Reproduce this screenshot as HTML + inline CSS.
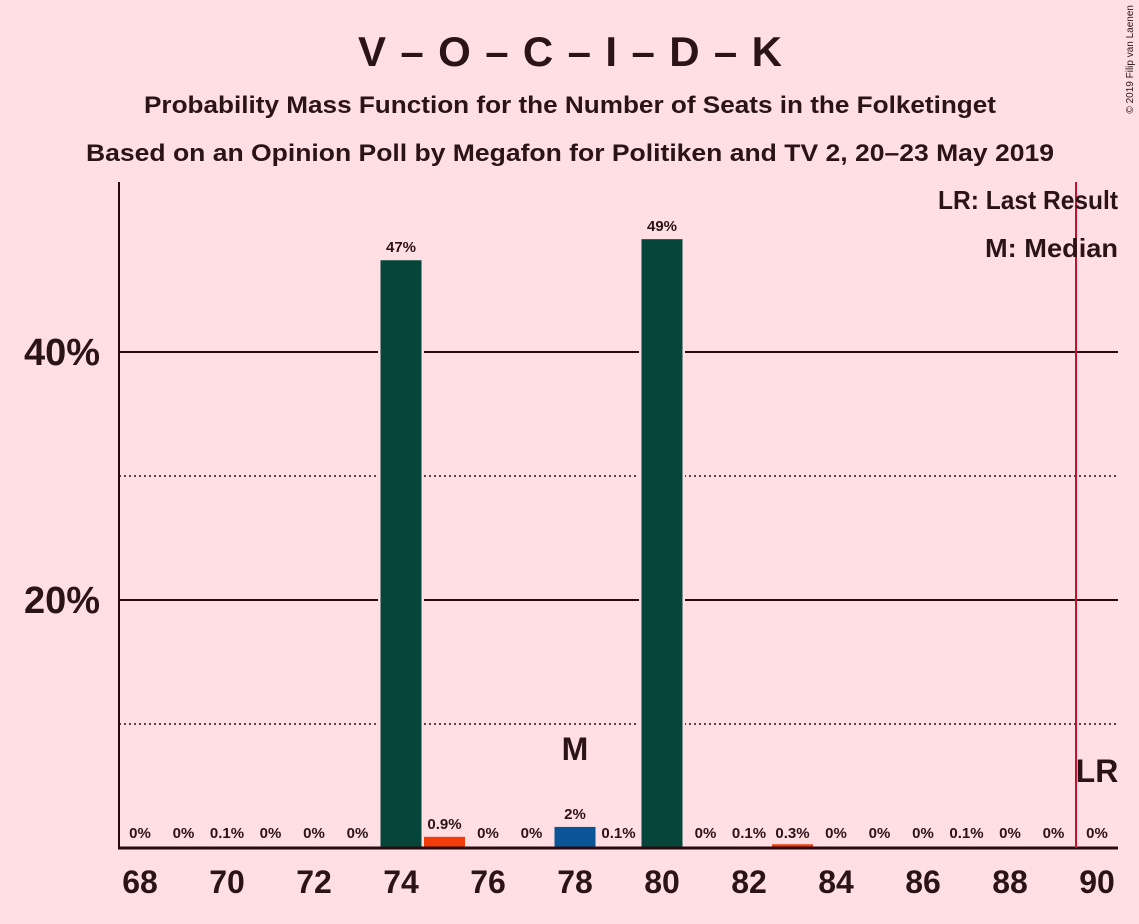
<!DOCTYPE html>
<html><head><meta charset="utf-8"><style>
body{margin:0;background:#FFDFE4;}
svg{display:block;font-family:"Liberation Sans",sans-serif;}
</style></head><body>
<svg id="chart" width="1139" height="924">
<rect width="1139" height="924" fill="#FFDFE4"/>
<text x="570" y="66" text-anchor="middle" font-size="42" font-weight="bold" fill="#2a1418" textLength="424" lengthAdjust="spacing">V – O – C – I – D – K</text>
<text x="570" y="113" text-anchor="middle" font-size="24" font-weight="bold" fill="#2a1418" textLength="852" lengthAdjust="spacingAndGlyphs">Probability Mass Function for the Number of Seats in the Folketinget</text>
<text x="570" y="161" text-anchor="middle" font-size="24" font-weight="bold" fill="#2a1418" textLength="968" lengthAdjust="spacingAndGlyphs">Based on an Opinion Poll by Megafon for Politiken and TV 2, 20–23 May 2019</text>
<text x="1133" y="5" transform="rotate(-90 1133 5)" text-anchor="end" font-size="10" fill="#2a1418">© 2019 Filip van Laenen</text>
<g id="grid"></g>
<g id="bars"></g>
<g id="labels"></g>
<line x1="119" y1="182" x2="119" y2="849" stroke="#2a0a10" stroke-width="2"/>
<line x1="118" y1="848" x2="1118" y2="848" stroke="#2a0a10" stroke-width="3"/>
<line x1="1076" y1="182" x2="1076" y2="848" stroke="#C8102E" stroke-width="2"/>
<text x="1097" y="782" text-anchor="middle" font-size="32" font-weight="bold" fill="#2a1418">LR</text>
<text x="1118" y="209" text-anchor="end" font-size="26" font-weight="bold" fill="#2a1418" textLength="180" lengthAdjust="spacingAndGlyphs">LR: Last Result</text>
<text x="1118" y="257" text-anchor="end" font-size="26" font-weight="bold" fill="#2a1418" textLength="133" lengthAdjust="spacingAndGlyphs">M: Median</text>
</svg>
<script>
const seats=[68,69,70,71,72,73,74,75,76,77,78,79,80,81,82,83,84,85,86,87,88,89,90];
const probs=[0,0,0.1,0,0,0,47.4,0.9,0,0,1.7,0.1,49.1,0,0.1,0.3,0,0,0,0.1,0,0,0];
const printed=["0%","0%","0.1%","0%","0%","0%","47%","0.9%","0%","0%","2%","0.1%","49%","0%","0.1%","0.3%","0%","0%","0%","0.1%","0%","0%","0%"];
const colors={74:"#05453A",80:"#05453A",75:"#F23C0A",83:"#F23C0A",78:"#0A5596"};
const yTicks=[20,40];
const yMinor=[10,30];
const xTickLabels=[68,70,72,74,76,78,80,82,84,86,88,90];
const medianSeat=78;
const NS="http://www.w3.org/2000/svg";
const x=s=>140+(s-68)*43.5;
const y=v=>848-v*12.4;
function mk(t,a,p){const e=document.createElementNS(NS,t);for(const k in a)e.setAttribute(k,a[k]);p.appendChild(e);return e;}
const grid=document.getElementById('grid'),bars=document.getElementById('bars'),labels=document.getElementById('labels');
yMinor.forEach(v=>{const l=mk('line',{x1:119,x2:1118,y1:y(v),y2:y(v),stroke:'#2a0a10','stroke-width':1.5,'stroke-dasharray':'2,3'},grid);

});
yTicks.forEach(v=>{const l=mk('line',{x1:119,x2:1118,y1:y(v),y2:y(v),stroke:'#2a0a10','stroke-width':2},grid);


const t=mk('text',{x:100,y:y(v)+13,'text-anchor':'end','font-size':38,'font-weight':'bold',fill:'#2a1418'},labels);t.textContent=v+'%';

});
seats.forEach((s,i)=>{const p=probs[i];
if(p>0){const h=848-y(p);
if(p>5){const g=mk('rect',{x:x(s)-23,y:y(p)-4,width:46,height:h+4,fill:'#FFDFE4'},bars);

}
const r=mk('rect',{x:x(s)-20.5,y:y(p),width:41,height:h,fill:colors[s]||'#F23C0A'},bars);

}
const big=p>1.5;
const t=mk('text',{x:x(s),y:big?y(p)-8:838,'text-anchor':'middle','font-size':15,'font-weight':'bold',fill:'#2a1418'},labels);
if(!big&&p>0.5)t.setAttribute('y',y(p)-8);
t.textContent=printed[i];

});
xTickLabels.forEach(s=>{const t=mk('text',{x:x(s),y:893,'text-anchor':'middle','font-size':32,'font-weight':'bold',fill:'#2a1418'},labels);t.textContent=s;

});
const m=mk('text',{x:x(medianSeat),y:760,'text-anchor':'middle','font-size':32,'font-weight':'bold',fill:'#2a1418'},labels);m.textContent='M';


</script>
</body></html>
